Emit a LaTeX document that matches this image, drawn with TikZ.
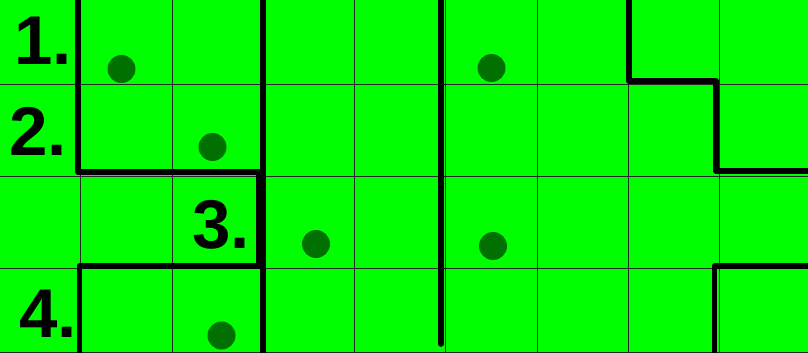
\documentclass[tikz,border=0pt]{standalone}
\usepackage{fontspec}
\setmainfont{Liberation Sans}
\definecolor{bggreen}{RGB}{0,255,0}
\definecolor{dotgreen}{RGB}{0,112,0}
\begin{document}
\begin{tikzpicture}[x=1pt,y=-1pt,
  gridline/.style={black!85,line width=0.9pt},
  wall/.style={black,line width=5.6pt,line cap=round,line join=round},
  dot/.style={circle,fill=dotgreen,minimum size=28pt,inner sep=0pt},
  num/.style={font=\fontsize{69}{71}\selectfont\bfseries,inner sep=0pt,anchor=base east}]
\useasboundingbox (0,0) rectangle (808,353);
\fill[bggreen] (0,0) rectangle (808,353);
% grid
\foreach \gx in {80.5,172,263.5,354.5,445.5,537,628,719.5}
  \draw[gridline] (\gx,0) -- (\gx,353);
\foreach \gy in {84,176,268,352}
  \draw[gridline] (0,\gy) -- (808,\gy);
% dots
\node[dot] (d1) at (121.5,69) {};
\node[dot] (d2) at (212.5,147) {};
\node[dot] (d3) at (316,244) {};
\node[dot] (d4) at (221.5,335.5) {};
\node[dot] (d5) at (491.5,68) {};
\node[dot] (d6) at (493,246) {};
% walls
\draw[wall] (78,-5) -- (78,172) -- (259,172) -- (259,266) -- (79.5,266) -- (79.5,360);
\draw[wall] (263,-5) -- (263,360);
\draw[wall] (441,-5) -- (441,344);
\draw[wall] (629,-5) -- (629,81) -- (716,81) -- (716,171) -- (815,171);
\draw[wall] (714.5,360) -- (714.5,266) -- (815,266);
% labels
\node[num] (l1) at (72,65) {1.};
\node[num] (l2) at (67,155) {2.};
\node[num] (l3) at (250,248) {3.};
\node[num] (l4) at (77,337) {4.};
\end{tikzpicture}
\end{document}
